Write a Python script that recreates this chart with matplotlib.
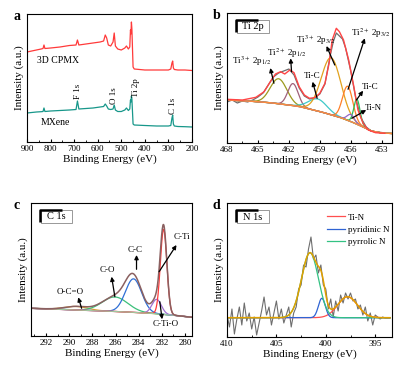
import numpy as np
import matplotlib
matplotlib.use('Agg')
import matplotlib.pyplot as plt
from matplotlib.patches import Rectangle

plt.rcParams['font.family'] = ['Liberation Serif', 'DejaVu Serif']
plt.rcParams['mathtext.fontset'] = 'stix'

# ---- (a) survey spectra ----
survey_e = [900, 880, 860, 840, 832, 828, 824, 800, 760, 720, 692, 686, 680, 650, 620, 590,
            575, 568, 562, 555, 545, 535, 530, 525, 515, 500, 485, 478, 470, 464, 461, 459,
            457, 455, 452, 450, 445, 400, 350, 300, 290, 285, 282, 279, 275, 260, 230, 200]
cpmx_i = [90, 91, 92, 93, 93.5, 97, 93.5, 94, 95, 96.5, 97, 102, 97, 98, 99, 100,
          101, 107, 104, 97, 96, 100, 109, 96, 93, 92, 94, 96, 93, 95, 112, 108,
          120, 113, 90, 75, 73, 72, 72, 72, 73, 79, 81, 74, 72.5, 72, 72, 71.5]
mxene_i = [29, 29.5, 30, 30.3, 30.5, 34, 30.5, 31, 31.5, 32, 32.5, 41, 33, 33.5, 34, 35,
           35.5, 38, 36, 33, 32.5, 33, 37, 32, 30.5, 30.5, 32, 34, 31.5, 33, 42, 40,
           46, 43, 28, 18, 17, 16.5, 16, 16, 16.5, 24, 27, 18, 16, 15.5, 15.3, 15]
survey_peaks = ['F 1s', 'O 1s', 'Ti 2p', 'C 1s']
survey_peak_e = [685, 531, 437, 281]
survey_peak_i = [43, 38, 45, 28]

# ---- (b) Ti 2p ----
b_env_e = [468, 466.5, 465.2, 464.4, 463.8, 463.3, 462.8, 462.4, 461.9, 461.5, 461.0, 460.5,
           460.0, 459.5, 459.0, 458.5, 458.1, 457.8, 457.4, 457.1, 456.7, 456.2, 455.7, 455.3,
           454.8, 454.3, 453.6, 452.7]
b_env_i = [43.7, 43, 45.7, 51.3, 61.3, 69, 71.3, 69, 73, 70.3, 56.3, 48,
           44.7, 45.3, 49.7, 59.7, 79.7, 103, 114.7, 111.3, 103, 83, 56.3, 33,
           19.7, 13, 10.3, 9.7]
b_raw_e = [468, 467.5, 467, 466.5, 466, 465.5, 465, 464.5, 464, 463.5, 463, 462.5, 462, 461.5,
           461, 460.5, 460, 459.5, 459, 458.5, 458, 457.7, 457.4, 457.1, 456.8, 456.5, 456,
           455.5, 455, 454.5, 454, 453.5, 453]
b_raw_i = [41, 43, 40, 42, 41, 43, 46, 50, 58, 66, 70, 72, 74, 68,
           55, 47, 44, 45, 49, 59, 87, 101, 110, 107, 104, 95, 72,
           44, 25, 16, 12, 11, 10.5]
b_bg_e = [468, 466, 464, 462, 461, 460, 459, 458, 457, 456, 455, 454, 453, 452]
b_bg_i = [43, 42, 40.5, 38, 36.5, 34, 31.5, 28.5, 25.5, 21.5, 17, 12, 10, 9.5]
b_center = [463.0, 461.6, 459.2, 457.9, 456.3, 455.4, 456.0]
b_amp = [25, 22, 12, 57, 34, 25, 7]
b_sigma = [0.8, 0.5, 0.9, 0.95, 0.5, 0.3, 0.35]
b_colors = ['#9c9a1e', '#a0607a', '#3fc9c9', '#e2a21e', '#ff7f27', '#2fbf5a', '#9467c8']
b_labels = [r'Ti$^{3+}$ 2p$_{1/2}$', r'Ti$^{2+}$ 2p$_{1/2}$', 'Ti-C', r'Ti$^{3+}$ 2p$_{3/2}$',
            r'Ti$^{2+}$ 2p$_{3/2}$', 'Ti-C', 'Ti-N']
b_text_xy = [(465.6, 82), (462.2, 89.7), (459.7, 67), (459.4, 103), (454.1, 109.7),
             (454.16, 55.7), (453.8, 34.7)]
b_arrow_tail = [(463.45, 59.7), (461.74, 71.3), (459.26, 44.7), (457.55, 78), (456.26, 53.7),
                (455.45, 43), (455.9, 24.7)]
b_arrow_head = [(463.8, 75), (461.83, 84.7), (459.7, 61.3), (458.35, 97), (454.64, 104.7),
                (454.8, 52.3), (454.5, 33)]

# ---- (c) C 1s ----
c_bg_e = [293.3, 290, 287, 285, 283, 281, 279.4]
c_bg_i = [27.7, 26.3, 25, 24, 22.7, 20.8, 18.7]
c_names = ['O-C=O', 'C-O', 'C-C', 'C-Ti-O', 'C-Ti']
c_center = [289.4, 286.05, 284.45, 282.45, 281.85]
c_amp = [3.5, 14.5, 33.5, 14.5, 85]
c_sigma = [1.0, 1.1, 0.7, 0.4, 0.28]
c_colors = ['#e3a32c', '#3cc07a', '#2f6fd6', '#a06fd2', '#ff3b3b']
c_text_xy = [(289.94, 43.7), (286.72, 66), (284.33, 86), (281.69, 12), (280.3, 99)]
c_arrow_tail = [(288.93, 27.7), (286.06, 39.3), (284.19, 66.7), (282.18, 34.3), (282.24, 64.3)]
c_arrow_head = [(289.22, 38.7), (286.34, 59.3), (284.19, 81), (281.98, 16.7), (280.74, 91)]

# ---- (d) N 1s ----
d_base = 19.3
d_names = ['Ti-N', 'pyridinic N', 'pyrrolic N']
d_center = [397.8, 400.4, 401.6]
d_amp = [21, 19.4, 65]
d_sigma = [1.0, 0.35, 0.85]
d_colors = ['#ff4f4f', '#2f63d3', '#33c283']
d_raw = [22, 10, 28, 3, 18, 30, 12, 34, 16, 24, 8, 20, 2, 14, 26, 40, 22, 30, 12, 24,
         36, 18, 28, 14, 22, 30, 10, 24, 30, 48, 52, 72, 70, 88, 100, 78, 82, 64, 72, 52,
         48, 28, 38, 20, 36, 26, 42, 34, 44, 38, 44, 36, 38, 28, 32, 22, 30, 16, 24, 12,
         22, 20, 18, 20, 19, 19, 19]


def gauss(e, c, a, s):
    return a * np.exp(-(e - c) ** 2 / (2 * s ** 2))


def style(ax, xlim, ylim, major, minor):
    ax.set_xlim(*xlim)
    ax.set_ylim(*ylim)
    ax.set_yticks([])
    ax.xaxis.set_major_locator(plt.MultipleLocator(major))
    ax.xaxis.set_minor_locator(plt.MultipleLocator(minor))
    ax.tick_params(axis='x', which='both', direction='in', labelsize=6.5, pad=2)
    ax.tick_params(axis='x', which='major', length=2.5)
    ax.tick_params(axis='x', which='minor', length=1.5)
    ax.set_xlabel('Binding Energy (eV)', fontsize=8, labelpad=1)
    ax.set_ylabel('Intensity (a.u.)', fontsize=8, labelpad=2)
    for sp in ax.spines.values():
        sp.set_linewidth(0.8)


def tag_box(ax, text):
    ax.add_patch(Rectangle((0.062, 0.848), 0.19, 0.098, transform=ax.transAxes,
                           facecolor='white', edgecolor='#888888', lw=0.6, zorder=5))
    ax.plot([0.055, 0.055, 0.19], [0.855, 0.948, 0.948], color='black', lw=1.8,
            transform=ax.transAxes, zorder=6, solid_capstyle='butt')
    ax.text(0.157, 0.895, text, transform=ax.transAxes, fontsize=7.5,
            ha='center', va='center', zorder=7)


def arrows(ax, tails, heads):
    for t, h in zip(tails, heads):
        ax.annotate('', xy=h, xytext=t,
                    arrowprops=dict(arrowstyle='-|>', color='black', lw=0.9,
                                    mutation_scale=6, shrinkA=0, shrinkB=0))


fig = plt.figure(figsize=(4.03, 3.67), dpi=100)
ax_a = fig.add_axes([27 / 403, 1 - 142 / 367, 165 / 403, 128 / 367])
ax_b = fig.add_axes([227 / 403, 1 - 143 / 367, 165 / 403, 130 / 367])
ax_c = fig.add_axes([31 / 403, 1 - 336 / 367, 161 / 403, 133 / 367])
ax_d = fig.add_axes([227 / 403, 1 - 337 / 367, 165 / 403, 134 / 367])

# (a)
ax_a.plot(survey_e, cpmx_i, color='#ff3a3a', lw=0.9)
ax_a.plot(survey_e, mxene_i, color='#17978a', lw=0.9)
ax_a.text(0.06, 0.64, '3D CPMX', transform=ax_a.transAxes, fontsize=7, va='center')
ax_a.text(0.08, 0.156, 'MXene', transform=ax_a.transAxes, fontsize=7, va='center')
for name, e, i in zip(survey_peaks, survey_peak_e, survey_peak_i):
    ax_a.text(e, i, name, rotation=90, fontsize=6.5, ha='center', va='bottom')
style(ax_a, (900, 200), (0, 128), 100, 50)

# (b)
eb = np.linspace(468, 452, 500)
bg_b = np.interp(eb, b_bg_e[::-1], b_bg_i[::-1])
ax_b.plot(b_raw_e, b_raw_i, color='#6e6e6e', lw=0.9)
for c, a, s, col in zip(b_center, b_amp, b_sigma, b_colors):
    ax_b.plot(eb, bg_b + gauss(eb, c, a, s), color=col, lw=0.9)
ax_b.plot(eb, bg_b, color='#ff8a3d', lw=1.0)
ax_b.plot(b_env_e, b_env_i, color='#ff4545', lw=1.0)
for lab, (x, y) in zip(b_labels, b_text_xy):
    ax_b.text(x, y, lab, fontsize=6.5, ha='center', va='center')
arrows(ax_b, b_arrow_tail, b_arrow_head)
style(ax_b, (468, 452), (0, 130), 3, 1.5)
tag_box(ax_b, 'Ti 2p')

# (c)
ec = np.linspace(293.3, 279.4, 500)
bg_c = np.interp(ec, c_bg_e[::-1], c_bg_i[::-1])
env_c = bg_c.copy()
for c, a, s, col in zip(c_center, c_amp, c_sigma, c_colors):
    comp = gauss(ec, c, a, s)
    env_c += comp
    ax_c.plot(ec, bg_c + comp, color=col, lw=0.9)
ax_c.plot(ec, bg_c, color='#9fc7a0', lw=0.8)
ax_c.plot(ec, env_c, color='#8a6060', lw=1.1)
for lab, (x, y) in zip(c_names, c_text_xy):
    ax_c.text(x, y, lab, fontsize=6.5, ha='center', va='center')
arrows(ax_c, c_arrow_tail, c_arrow_head)
style(ax_c, (293.3, 279.4), (0, 133), 2, 1)
tag_box(ax_c, 'C 1s')

# (d)
ed = np.linspace(410, 393.5, len(d_raw))
ax_d.plot(ed, d_raw, color='#6e6e6e', lw=0.8)
ef = np.linspace(410, 393.5, 500)
env_d = np.full_like(ef, d_base)
for name, c, a, s, col in zip(d_names, d_center, d_amp, d_sigma, d_colors):
    comp = gauss(ef, c, a, s)
    env_d += comp
    ax_d.plot(ef, d_base + comp, color=col, lw=0.9, label=name)
ax_d.plot(ef, env_d, color='#e0a000', lw=1.1)
ax_d.legend(loc='upper left', bbox_to_anchor=(0.57, 0.97), frameon=False, fontsize=6.5,
            handlelength=1.9, labelspacing=0.45, borderpad=0.2, handletextpad=0.4)
style(ax_d, (410, 393.3), (0, 134), 5, 2.5)
tag_box(ax_d, 'N 1s')

for lab, x, y in [('a', 0.042, 0.954), ('b', 0.538, 0.959), ('c', 0.042, 0.441), ('d', 0.538, 0.441)]:
    fig.text(x, y, lab, fontsize=10, fontweight='bold', ha='center', va='center')

fig.savefig('out.png', dpi=100)
